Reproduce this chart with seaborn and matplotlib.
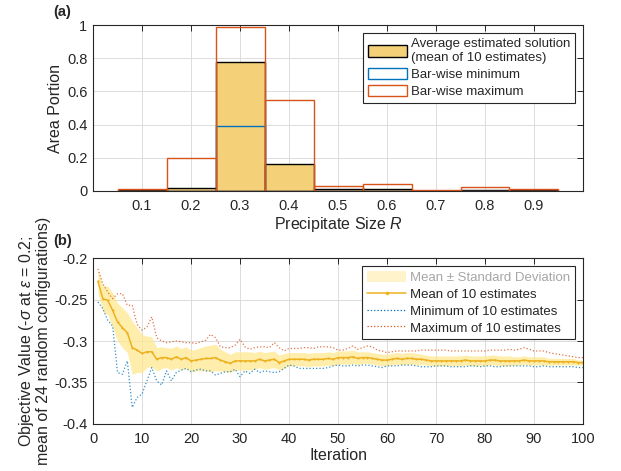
import numpy as np
import matplotlib
matplotlib.use('Agg')
import matplotlib.pyplot as plt
import seaborn as sns
from matplotlib.patches import Patch
from matplotlib.lines import Line2D

# panel (a): precipitate size distribution
sizes = [0.1, 0.2, 0.3, 0.4, 0.5, 0.6, 0.7, 0.8, 0.9]
bin_edges = [0.05, 0.15, 0.25, 0.35, 0.45, 0.55, 0.65, 0.75, 0.85, 0.95]
area_mean = [0.005, 0.02, 0.78, 0.16, 0.01, 0.01, 0.001, 0.005, 0.005]
area_min = [0.0, 0.0, 0.39, 0.0, 0.0, 0.0, 0.0, 0.0, 0.0]
area_max = [0.015, 0.20, 0.99, 0.55, 0.03, 0.045, 0.003, 0.027, 0.01]

# panel (b): objective value per iteration
iteration = list(range(1, 101))
obj_mean = [-0.228, -0.249, -0.251, -0.263, -0.277, -0.284, -0.290, -0.308, -0.311, -0.315,
            -0.313, -0.313, -0.322, -0.320, -0.320, -0.322, -0.319, -0.322, -0.320, -0.324,
            -0.323, -0.322, -0.321, -0.321, -0.320, -0.323, -0.325, -0.327, -0.324, -0.324,
            -0.324, -0.324, -0.324, -0.322, -0.324, -0.323, -0.322, -0.326, -0.324, -0.322,
            -0.322, -0.322, -0.322, -0.323, -0.322, -0.322, -0.322, -0.321, -0.322, -0.320,
            -0.320, -0.320, -0.319, -0.321, -0.320, -0.320, -0.321, -0.322, -0.323, -0.323,
            -0.322, -0.321, -0.322, -0.321, -0.321, -0.322, -0.322, -0.323, -0.324, -0.324,
            -0.324, -0.324, -0.324, -0.324, -0.324, -0.323, -0.324, -0.324, -0.324, -0.324,
            -0.323, -0.323, -0.324, -0.324, -0.324, -0.324, -0.324, -0.323, -0.324, -0.324,
            -0.324, -0.324, -0.325, -0.325, -0.325, -0.325, -0.325, -0.325, -0.326, -0.326]
obj_std = [0.014, 0.016, 0.017, 0.021, 0.023, 0.024, 0.024, 0.032, 0.027, 0.023,
           0.019, 0.018, 0.014, 0.013, 0.012, 0.013, 0.013, 0.013, 0.013, 0.013,
           0.013, 0.014, 0.015, 0.016, 0.016, 0.013, 0.012, 0.011, 0.011, 0.011,
           0.011, 0.011, 0.010, 0.010, 0.010, 0.010, 0.010, 0.009, 0.009, 0.008,
           0.008, 0.008, 0.008, 0.008, 0.008, 0.008, 0.008, 0.008, 0.008, 0.008,
           0.008, 0.008, 0.008, 0.008, 0.007, 0.007, 0.007, 0.007, 0.007, 0.007,
           0.007, 0.007, 0.007, 0.007, 0.007, 0.007, 0.006, 0.006, 0.006, 0.006,
           0.006, 0.006, 0.006, 0.006, 0.006, 0.006, 0.006, 0.006, 0.006, 0.006,
           0.006, 0.006, 0.006, 0.006, 0.006, 0.005, 0.005, 0.005, 0.005, 0.005,
           0.005, 0.005, 0.004, 0.004, 0.004, 0.004, 0.004, 0.004, 0.003, 0.003]
obj_min = [-0.253, -0.261, -0.275, -0.282, -0.338, -0.340, -0.324, -0.380, -0.368, -0.364,
           -0.348, -0.332, -0.348, -0.353, -0.336, -0.348, -0.338, -0.335, -0.333, -0.337,
           -0.335, -0.334, -0.336, -0.336, -0.341, -0.339, -0.337, -0.337, -0.334, -0.343,
           -0.336, -0.339, -0.334, -0.338, -0.336, -0.337, -0.338, -0.337, -0.333, -0.329,
           -0.330, -0.333, -0.333, -0.333, -0.333, -0.333, -0.333, -0.332, -0.330, -0.329,
           -0.330, -0.330, -0.329, -0.330, -0.329, -0.329, -0.330, -0.331, -0.332, -0.330,
           -0.330, -0.330, -0.329, -0.329, -0.329, -0.330, -0.331, -0.331, -0.331, -0.330,
           -0.330, -0.330, -0.331, -0.331, -0.331, -0.331, -0.330, -0.330, -0.331, -0.330,
           -0.330, -0.331, -0.331, -0.330, -0.330, -0.330, -0.330, -0.330, -0.330, -0.331,
           -0.331, -0.330, -0.331, -0.331, -0.331, -0.331, -0.331, -0.331, -0.332, -0.332]
obj_max = [-0.213, -0.231, -0.241, -0.249, -0.243, -0.243, -0.257, -0.257, -0.280, -0.287,
           -0.283, -0.271, -0.296, -0.300, -0.302, -0.301, -0.300, -0.301, -0.302, -0.302,
           -0.303, -0.301, -0.299, -0.292, -0.296, -0.307, -0.308, -0.308, -0.305, -0.298,
           -0.307, -0.310, -0.308, -0.307, -0.307, -0.308, -0.302, -0.308, -0.312, -0.309,
           -0.309, -0.309, -0.308, -0.308, -0.309, -0.307, -0.307, -0.307, -0.308, -0.311,
           -0.311, -0.309, -0.306, -0.310, -0.308, -0.306, -0.307, -0.311, -0.312, -0.314,
           -0.313, -0.312, -0.312, -0.312, -0.312, -0.312, -0.311, -0.311, -0.311, -0.311,
           -0.311, -0.311, -0.312, -0.312, -0.312, -0.312, -0.312, -0.312, -0.312, -0.312,
           -0.311, -0.311, -0.311, -0.311, -0.310, -0.311, -0.310, -0.308, -0.310, -0.312,
           -0.312, -0.312, -0.314, -0.315, -0.316, -0.317, -0.318, -0.319, -0.320, -0.320]

sns.set_style('whitegrid')
plt.rcParams['font.family'] = ['Liberation Sans', 'DejaVu Sans']
plt.rcParams['mathtext.fontset'] = 'custom'
plt.rcParams['mathtext.it'] = 'Liberation Sans:italic'
plt.rcParams['mathtext.rm'] = 'Liberation Sans'

GOLD = '#EDB120'
BLUE = '#0072BD'
RED = '#D95319'
AX_COL = '#262626'
TICK_FS = 10.5
LABEL_FS = 11.5
LEG_FS = 9.5

fig = plt.figure(figsize=(6.21, 4.71), dpi=100)
ax1 = fig.add_axes([0.1498, 0.5945, 0.789, 0.3524])
ax2 = fig.add_axes([0.1498, 0.0998, 0.789, 0.3524])


def style_axes(ax):
    ax.grid(True, color='#DCDCDC', linewidth=0.7)
    ax.set_axisbelow(True)
    for s in ax.spines.values():
        s.set_color(AX_COL)
        s.set_linewidth(0.8)
        s.set_visible(True)
    ax.tick_params(direction='in', length=4, width=0.7, color=AX_COL,
                   top=True, right=True, labelsize=TICK_FS, labelcolor=AX_COL)
    ax.tick_params(axis='x', pad=6)
    ax.tick_params(axis='y', pad=4)


def make_legend(ax, handles, labels):
    leg = ax.legend(handles, labels, loc='upper right', fontsize=LEG_FS, frameon=True,
                    fancybox=False, edgecolor=AX_COL, framealpha=1, borderaxespad=0.6,
                    handlelength=3.0, handleheight=0.95, handletextpad=0.3,
                    labelspacing=0.28, borderpad=0.35)
    leg.get_frame().set_linewidth(0.8)
    for t in leg.get_texts():
        t.set_linespacing(1.3)
    return leg


# (a) histogram-like bars
sns.histplot(x=sizes, weights=area_mean, bins=bin_edges, ax=ax1, stat='count',
             color='#F4D079', edgecolor='black', linewidth=1.0, alpha=1.0)
sns.histplot(x=sizes, weights=area_min, bins=bin_edges, ax=ax1, stat='count',
             fill=False, color=BLUE, linewidth=1.0)
sns.histplot(x=sizes, weights=area_max, bins=bin_edges, ax=ax1, stat='count',
             fill=False, color=RED, linewidth=1.0)
ax1.set_xlim(0, 1)
ax1.set_ylim(0, 1)
ax1.set_xticks(sizes)
ax1.set_xticklabels([f'{s:g}' for s in sizes])
ax1.set_yticks([0, 0.2, 0.4, 0.6, 0.8, 1])
ax1.set_yticklabels(['0', '0.2', '0.4', '0.6', '0.8', '1'])
style_axes(ax1)
ax1.set_xlabel('Precipitate Size $R$', fontsize=LABEL_FS, color=AX_COL, labelpad=1)
ax1.set_ylabel('Area Portion', fontsize=LABEL_FS, color=AX_COL, labelpad=3)
h1 = [Patch(facecolor='#F4D079', edgecolor='black', linewidth=1.0),
      Patch(facecolor='white', edgecolor=BLUE, linewidth=1.0),
      Patch(facecolor='white', edgecolor=RED, linewidth=1.0)]
l1 = ['Average estimated solution\n(mean of 10 estimates)', 'Bar-wise minimum', 'Bar-wise maximum']
make_legend(ax1, h1, l1)
ax1.text(-0.082, 1.078, '(a)', transform=ax1.transAxes, fontsize=10.5, fontweight='bold',
         ha='left', va='center')

# (b) objective value over iterations
it = np.array(iteration)
m = np.array(obj_mean)
sd = np.array(obj_std)
ax2.fill_between(it, m - sd, m + sd, color='#FFE88F', alpha=0.75, linewidth=0)
sns.lineplot(x=iteration, y=obj_mean, ax=ax2, color=GOLD, linewidth=1.1,
             marker='.', markersize=3, markeredgewidth=0)
sns.lineplot(x=iteration, y=obj_min, ax=ax2, color=BLUE, linewidth=0.9,
             linestyle=':', alpha=0.8)
sns.lineplot(x=iteration, y=obj_max, ax=ax2, color=RED, linewidth=0.9,
             linestyle=':', alpha=0.8)
ax2.set_xlim(0, 100)
ax2.set_ylim(-0.4, -0.2)
ax2.set_xticks(range(0, 101, 10))
ax2.set_yticks([-0.4, -0.35, -0.3, -0.25, -0.2])
ax2.set_yticklabels(['-0.4', '-0.35', '-0.3', '-0.25', '-0.2'])
style_axes(ax2)
ax2.set_xlabel('Iteration', fontsize=LABEL_FS, color=AX_COL, labelpad=1)
ax2.set_ylabel('Objective Value (-$\\sigma$ at $\\epsilon$ = 0.2;\nmean of 24 random configurations)',
               fontsize=LABEL_FS, color=AX_COL, labelpad=2, linespacing=1.0)
h2 = [Patch(facecolor='#FFF3CC', edgecolor='none'),
      Line2D([], [], color=GOLD, linewidth=1.1, marker='.', markersize=3),
      Line2D([], [], color=BLUE, linewidth=0.9, linestyle=':'),
      Line2D([], [], color=RED, linewidth=0.9, linestyle=':')]
l2 = ['Mean ± Standard Deviation', 'Mean of 10 estimates', 'Minimum of 10 estimates',
      'Maximum of 10 estimates']
leg2 = make_legend(ax2, h2, l2)
leg2.get_texts()[0].set_color('#A6A6A6')
ax2.text(-0.082, 1.10, '(b)', transform=ax2.transAxes, fontsize=10.5, fontweight='bold',
         ha='left', va='center')

plt.savefig('out.png', dpi=100)
plt.close()
